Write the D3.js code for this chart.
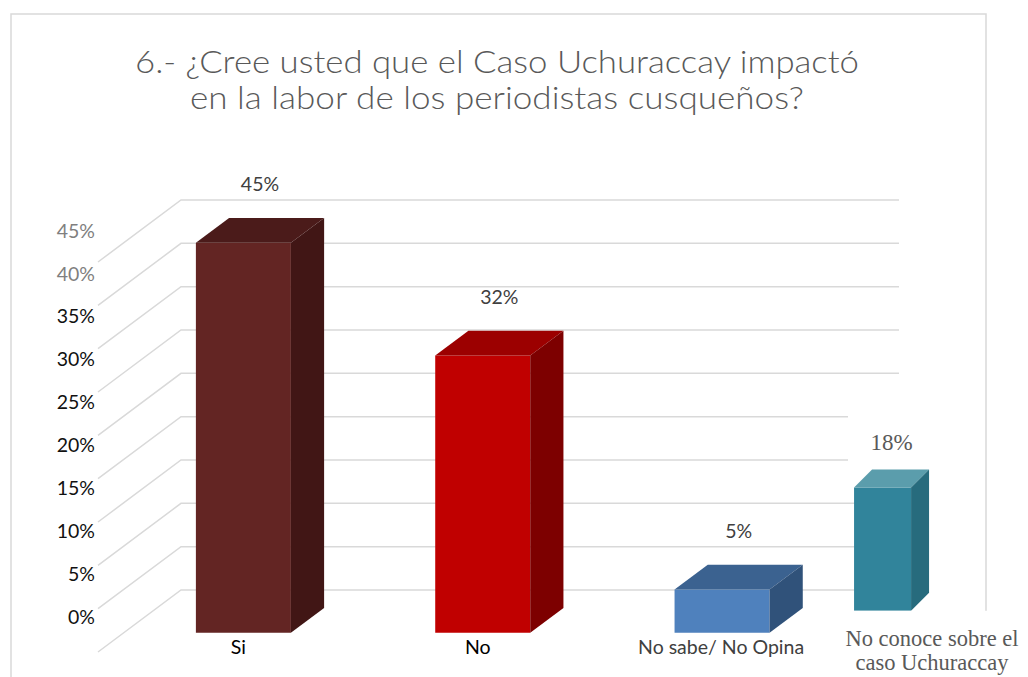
<!DOCTYPE html>
<html>
<head>
<meta charset="utf-8">
<script src="https://cdn.jsdelivr.net/npm/d3@7"></script>
<style>
	body { margin: 0; background: #fff; }
	svg { display: block; }
</style>
</head>
<body>
<script>
// chart data
var categories = ["Si", "No", "No sabe/ No Opina", "No conoce sobre el caso Uchuraccay"];
var values = [45, 32, 5, 18];
var valueLabels = ["45%", "32%", "5%", "18%"];
var tickValues = [0, 5, 10, 15, 20, 25, 30, 35, 40, 45];
var tickLabels = ["0%", "5%", "10%", "15%", "20%", "25%", "30%", "35%", "40%", "45%"];
var titleLines = ["6.- ¿Cree usted que el Caso Uchuraccay impactó", "en la labor de los periodistas cusqueños?"];
var insetLabelLines = ["No conoce sobre el", "caso Uchuraccay"];

// colours for each bar: front, top, side
var frontColors = ["#632523", "#c00000", "#4f81bd", "#31849b"];
var topColors = ["#4b1b1a", "#9c0000", "#3b6290", "#5b9dac"];
var sideColors = ["#411615", "#7d0000", "#30527a", "#276b7d"];

var width = 1028,
	height = 677;

// back wall of the 3d plot and floor depth
var wall = {left: 181, right: 899, bottom: 590, top: 200};
var floorDx = -83, floorDy = 62;
var frontT = 0.69, backT = 0.29;

var svg = d3.select("body").append("svg")
	.attr("width", width)
	.attr("height", height);

// chart frame
svg.append("rect")
	.attr("x", 11).attr("y", 14)
	.attr("width", 975).attr("height", 700)
	.attr("fill", "none")
	.attr("stroke", "#d9d9d9")
	.attr("stroke-width", 1.5);

// title
svg.selectAll("text.title")
	.data(titleLines)
	.enter()
	.append("text")
	.attr("class", "title")
	.attr("x", 497)
	.attr("y", function(d, i) { return 73 + i * 36; })
	.attr("text-anchor", "middle")
	.attr("textLength", function(d, i) { return i == 0 ? 724 : 614; })
	.attr("lengthAdjust", "spacingAndGlyphs")
	.style("font-family", "Lato, sans-serif")
	.style("font-weight", 300)
	.style("font-size", "30.5px")
	.attr("fill", "#595959")
	.text(function(d) { return d; });

// scales (excel chart holds the first three categories)
var mainCats = categories.slice(0, 3);
var x = d3.scaleBand()
	.domain(mainCats)
	.range([wall.left, wall.right]);
var y = d3.scaleLinear()
	.domain([0, 45])
	.range([wall.bottom, wall.top]);

var proj = function(xw, v, t) {
	return [xw + t * floorDx, y(v) + t * floorDy];
};

// gridlines: back wall + floor diagonal
var grid = svg.append("g").attr("class", "grid");
grid.selectAll("polyline")
	.data(tickValues)
	.enter()
	.append("polyline")
	.attr("points", function(d) {
		return [proj(wall.left, d, 1), proj(wall.left, d, 0), proj(wall.right, d, 0)].join(" ");
	})
	.attr("fill", "none")
	.attr("stroke", "#d9d9d9")
	.attr("stroke-width", 1.5);

// y labels
svg.selectAll("text.tick")
	.data(tickValues)
	.enter()
	.append("text")
	.attr("class", "tick")
	.attr("x", 95)
	.attr("y", function(d) { return y(d) + 34 + d * 0.08; })
	.attr("text-anchor", "end")
	.style("font-family", "Lato, sans-serif")
	.style("font-size", "19.5px")
	.attr("fill", function(d) { return d >= 40 ? "#7f7f7f" : "#111"; })
	.text(function(d, i) { return tickLabels[i]; });

// white box behind the pasted 18% label
svg.append("rect")
	.attr("x", 848).attr("y", 400)
	.attr("width", 100).attr("height", 66)
	.attr("fill", "#fff");

// bar geometry
var barW = x.bandwidth() * 0.397;
var bars = mainCats.map(function(c, i) {
	var xl = x(c) + (x.bandwidth() - barW) / 2;
	var fl = proj(xl, 0, frontT), ft = proj(xl, values[i], frontT);
	var bl = proj(xl, 0, backT);
	return {
		i: i,
		left: fl[0], right: fl[0] + barW,
		bottom: fl[1], top: ft[1],
		dx: bl[0] - fl[0], dy: bl[1] - fl[1]
	};
});
// pasted 4th bar: narrower, lifted and scaled down
var insetScale = 0.79, insetLift = 22;
var last = bars[2];
var insetLeft = last.left + x.step() * 0.75;
bars.push({
	i: 3,
	left: insetLeft, right: insetLeft + barW * 0.6,
	bottom: last.bottom - insetLift,
	top: last.bottom - insetLift - (y(0) - y(values[3])) * insetScale,
	dx: 18, dy: -18
});

var barG = svg.selectAll("g.bar")
	.data(bars)
	.enter()
	.append("g")
	.attr("class", "bar");

barG.append("polygon")
	.attr("points", function(d) {
		return [[d.left, d.top], [d.right, d.top], [d.right, d.bottom], [d.left, d.bottom]].join(" ");
	})
	.attr("fill", function(d) { return frontColors[d.i]; });
barG.append("polygon")
	.attr("points", function(d) {
		return [[d.left, d.top], [d.left + d.dx, d.top + d.dy], [d.right + d.dx, d.top + d.dy], [d.right, d.top]].join(" ");
	})
	.attr("fill", function(d) { return topColors[d.i]; });
barG.append("polygon")
	.attr("points", function(d) {
		return [[d.right, d.top], [d.right + d.dx, d.top + d.dy], [d.right + d.dx, d.bottom + d.dy], [d.right, d.bottom]].join(" ");
	})
	.attr("fill", function(d) { return sideColors[d.i]; });

// value labels
barG.append("text")
	.attr("x", function(d) { return (d.left + d.right + d.dx) / 2; })
	.attr("y", function(d) { return d.top + d.dy - (d.i == 3 ? 20 : 27); })
	.attr("text-anchor", "middle")
	.style("font-family", function(d) { return d.i == 3 ? "'Liberation Serif', serif" : "Lato, sans-serif"; })
	.style("font-size", function(d) { return d.i == 3 ? "23px" : "19.5px"; })
	.attr("fill", function(d) { return d.i == 3 ? "#595959" : "#404040"; })
	.text(function(d) { return valueLabels[d.i]; });

// category labels for the excel bars
svg.selectAll("text.cat")
	.data(bars.slice(0, 3))
	.enter()
	.append("text")
	.attr("class", "cat")
	.attr("x", function(d) { return (d.left + d.right) / 2 - (d.i == 2 ? 1 : 5); })
	.attr("y", function(d) { return d.bottom + 21; })
	.attr("text-anchor", "middle")
	.style("font-family", "Lato, sans-serif")
	.style("font-size", "19.5px")
	.attr("fill", function(d) { return d.i == 2 ? "#404040" : "#000"; })
	.text(function(d) { return categories[d.i]; });

// text box of the pasted bar
var inset = bars[3];
svg.append("rect")
	.attr("x", 836).attr("y", inset.bottom)
	.attr("width", 192).attr("height", height - inset.bottom)
	.attr("fill", "#fff");
svg.selectAll("text.insetcat")
	.data(insetLabelLines)
	.enter()
	.append("text")
	.attr("class", "insetcat")
	.attr("x", 932)
	.attr("y", function(d, i) { return inset.bottom + 35 + i * 24; })
	.attr("text-anchor", "middle")
	.style("font-family", "'Liberation Serif', serif")
	.style("font-size", "22.5px")
	.attr("fill", "#595959")
	.text(function(d) { return d; });
</script>
</body>
</html>
